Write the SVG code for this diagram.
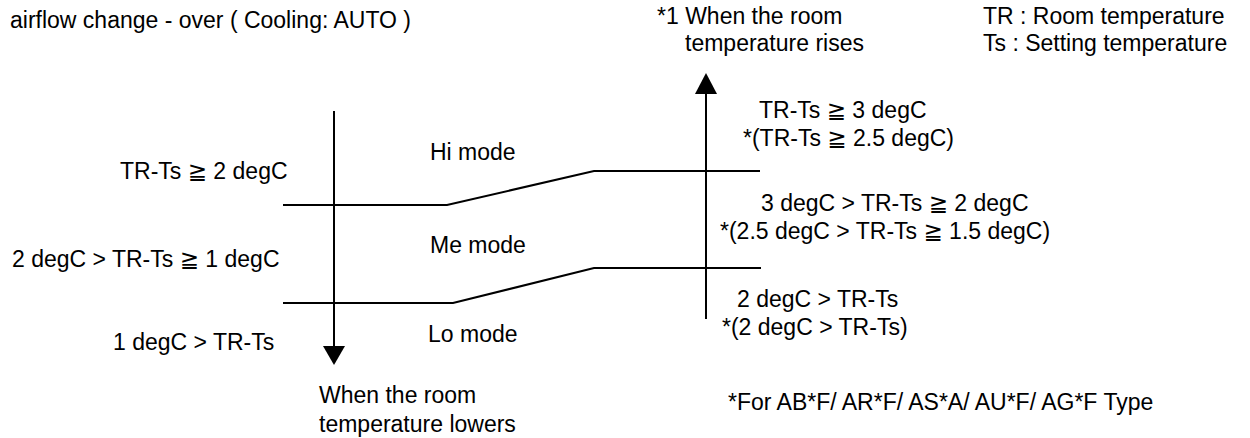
<svg xmlns="http://www.w3.org/2000/svg" width="1250" height="438" viewBox="0 0 1250 438">
<style>
text{font-family:"Liberation Sans",Arial,"DejaVu Sans",sans-serif;font-size:23px;fill:#000}
.ln{fill:none;stroke:#000;stroke-width:2}
</style>
<rect width="1250" height="438" fill="#fff"/>
<g id="title"><text x="10" y="28">airflow change - over ( Cooling: AUTO )</text></g>
<g id="legend"><text x="983" y="24">TR : Room temperature</text><text x="983" y="51">Ts : Setting temperature</text></g>
<g id="rise-label"><text x="657" y="24">*1 When the room</text><text x="685" y="51">temperature rises</text></g>
<g id="lower-label"><text x="319" y="403">When the room</text><text x="319" y="432">temperature lowers</text></g>
<g id="connectors">
<line class="ln" x1="334" y1="111" x2="334" y2="347"/>
<polygon points="334,365 323,346 345,346"/>
<line class="ln" x1="706" y1="93" x2="706" y2="319"/>
<polygon points="706,73 695,94 717,94"/>
<polyline class="ln" points="283,205 447,205 594,171 760,171"/>
<polyline class="ln" points="283,303 453,303 594,268 761,268"/>
</g>
<g id="left-thresholds">
<text x="120" y="179">TR-Ts ≧ 2 degC</text>
<text x="12" y="267">2 degC &gt; TR-Ts ≧ 1 degC</text>
<text x="113" y="350">1 degC &gt; TR-Ts</text>
</g>
<g id="hi-mode"><text x="430" y="160">Hi mode</text></g>
<g id="me-mode"><text x="430" y="253">Me mode</text></g>
<g id="lo-mode"><text x="428" y="342">Lo mode</text></g>
<g id="right-thresholds">
<text x="759" y="118">TR-Ts ≧ 3 degC</text>
<text x="743" y="146">*(TR-Ts ≧ 2.5 degC)</text>
<text x="761" y="211">3 degC &gt; TR-Ts ≧ 2 degC</text>
<text x="720" y="239">*(2.5 degC &gt; TR-Ts ≧ 1.5 degC)</text>
<text x="737" y="307">2 degC &gt; TR-Ts</text>
<text x="722" y="335">*(2 degC &gt; TR-Ts)</text>
</g>
<g id="note"><text x="728" y="410">*For AB*F/ AR*F/ AS*A/ AU*F/ AG*F Type</text></g>
</svg>
